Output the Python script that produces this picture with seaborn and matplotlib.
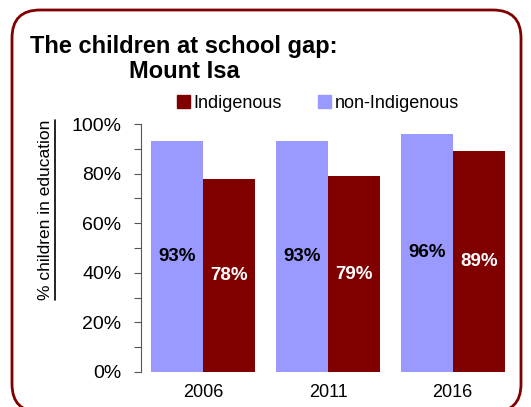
import pandas as pd
import seaborn as sns
import matplotlib.pyplot as plt
from matplotlib.patches import FancyBboxPatch, Patch
from matplotlib.lines import Line2D
from matplotlib.ticker import MultipleLocator, FuncFormatter

years = ["2006", "2011", "2016"]
non_indigenous = [93, 93, 96]
indigenous = [78, 79, 89]
groups = ["non-Indigenous", "Indigenous"]
colors = {"non-Indigenous": "#9999FF", "Indigenous": "#800000"}

df = pd.DataFrame({
    "Year": years * 2,
    "Group": ["non-Indigenous"] * 3 + ["Indigenous"] * 3,
    "Value": non_indigenous + indigenous,
})

sns.set_style("white")
plt.rcParams["font.family"] = ["Liberation Sans", "DejaVu Sans"]
plt.rcParams["text.color"] = "black"
plt.rcParams["xtick.labelcolor"] = "black"
plt.rcParams["ytick.labelcolor"] = "black"

fig = plt.figure(figsize=(5.31, 4.07), dpi=100)
ax = fig.add_axes([0.2655, 0.086, 0.7045, 0.6093])

sns.barplot(data=df, x="Year", y="Value", hue="Group", hue_order=groups,
            palette=colors, width=0.835, gap=0, saturation=1, ax=ax, legend=False,
            linewidth=0, edgecolor="none")

# labels inside bars
for cont, col in zip(ax.containers, ["black", "white"]):
    ax.bar_label(cont, labels=[f"{v:.0f}%" for v in cont.datavalues],
                 label_type="center", color=col, fontsize=13.5, fontweight="bold")

ax.set_ylim(0, 100)
ax.set_xlim(-0.5, 2.5)
ax.yaxis.set_major_locator(MultipleLocator(20))
ax.yaxis.set_minor_locator(MultipleLocator(10))
ax.yaxis.set_major_formatter(FuncFormatter(lambda v, p: f"{v:.0f}%"))
ax.tick_params(axis="y", which="both", direction="out", length=5, width=0.8,
               color="#555555", left=True, labelsize=14, pad=9, labelcolor="black")
ax.tick_params(axis="x", length=0, labelsize=13, pad=9, labelcolor="black")
ax.set_xlabel("")
ax.set_ylabel("")
for s in ["top", "right", "bottom"]:
    ax.spines[s].set_visible(False)
ax.spines["left"].set_color("#555555")
ax.spines["left"].set_linewidth(0.8)

# y label with underline
fig.text(46 / 531, 1 - 210 / 407, "% children in education", rotation=90,
         ha="center", va="center", fontsize=12.5, color="black")
fig.add_artist(Line2D([55 / 531, 55 / 531], [1 - 120 / 407, 1 - 300 / 407],
                      color="black", lw=1.2, transform=fig.transFigure))

# title
fig.text(30 / 531, 1 - 47 / 407, "The children at school gap:", ha="left",
         va="center", fontsize=17, fontweight="bold", color="black")
fig.text(184 / 531, 1 - 71 / 407, "Mount Isa", ha="center", va="center",
         fontsize=17, fontweight="bold", color="black")

# legend
handles = [Patch(color=colors["Indigenous"], label="Indigenous"),
           Patch(color=colors["non-Indigenous"], label="non-Indigenous")]
fig.legend(handles=handles, loc="center", bbox_to_anchor=(318 / 531, 1 - 103 / 407),
           ncol=2, frameon=False, fontsize=13, handlelength=0.7, handleheight=0.7,
           handletextpad=0.2, columnspacing=2.0, labelcolor="black")

# rounded border
box = FancyBboxPatch((0.12, -0.05), 5.09, 4.02, boxstyle="round,pad=0,rounding_size=0.28",
                     transform=fig.dpi_scale_trans, fill=False, edgecolor="#800000", lw=2)
fig.add_artist(box)

fig.savefig("out.png", dpi=100)
